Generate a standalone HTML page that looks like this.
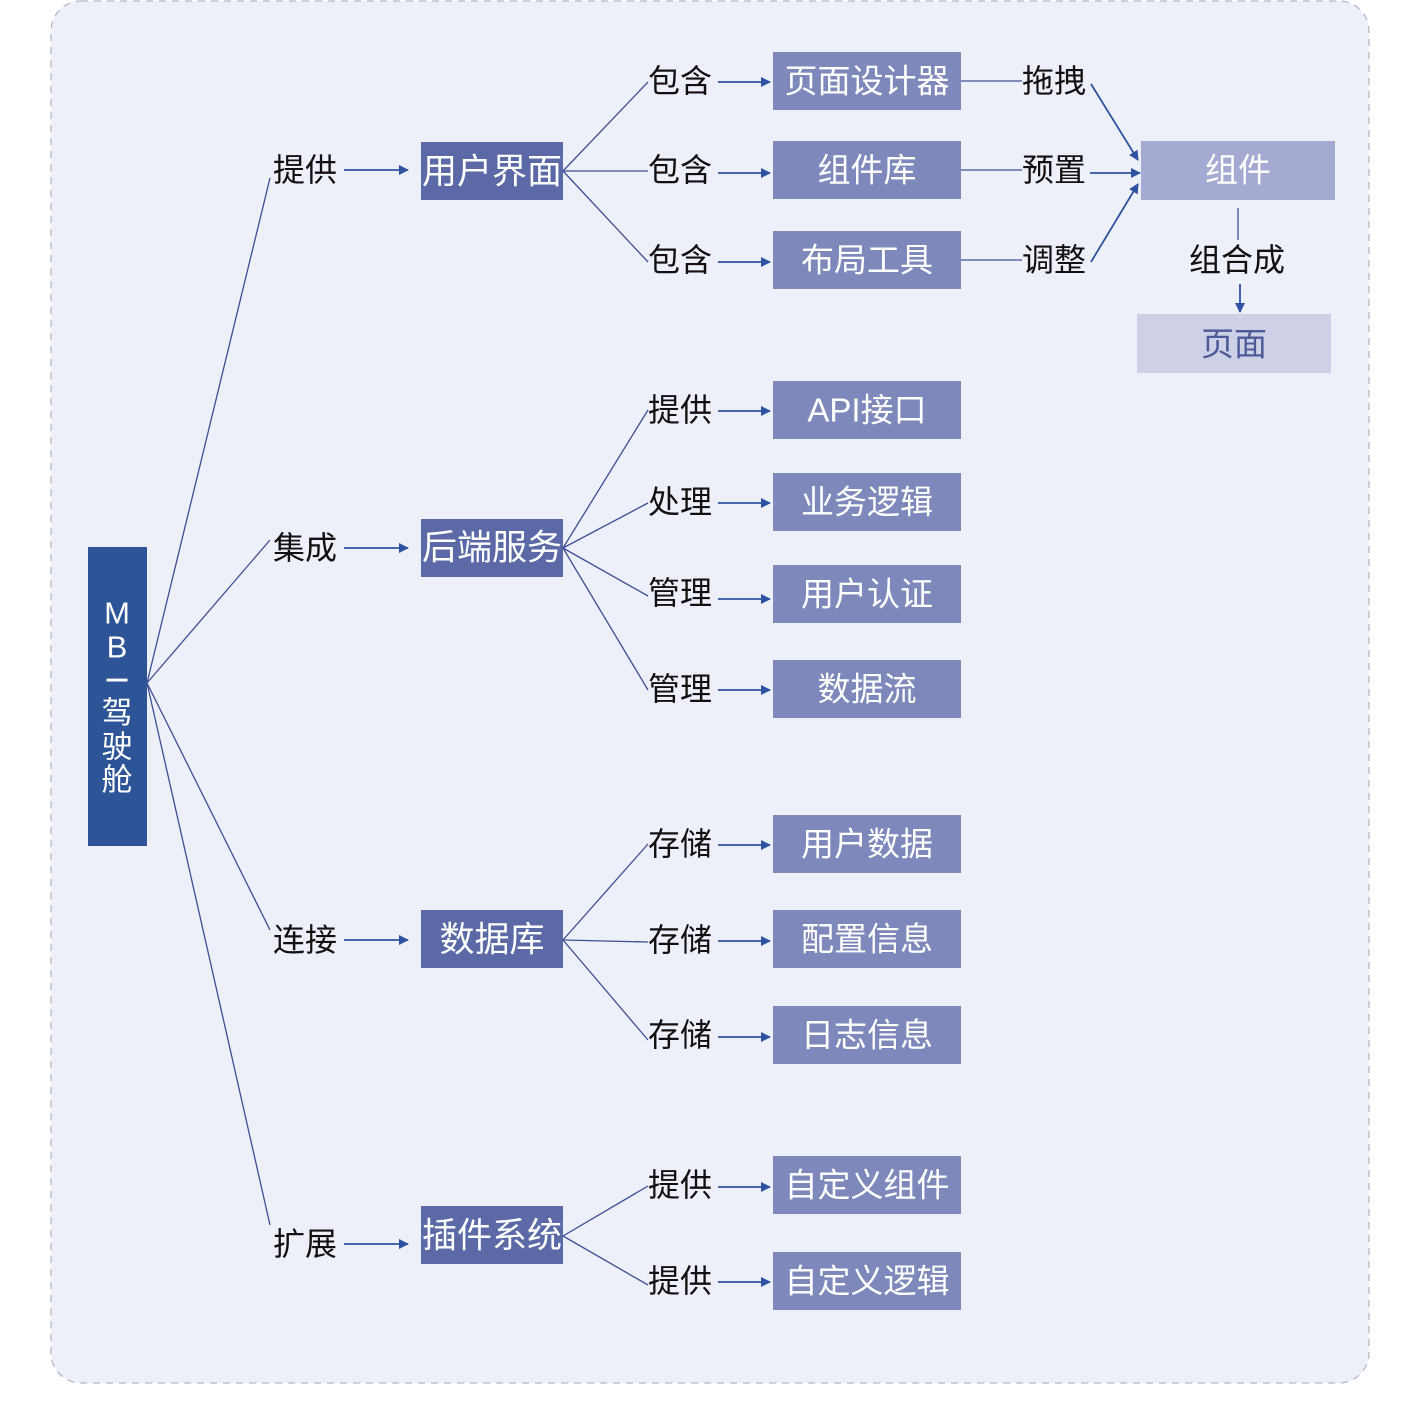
<!DOCTYPE html>
<html><head><meta charset="utf-8"><style>
html,body{margin:0;padding:0;background:#fff;}
svg{display:block;font-family:"Liberation Sans","Noto Sans CJK SC",sans-serif;}
.l{font-size:32px;fill:#111;dominant-baseline:central;}
.b{font-size:33px;fill:#fff;dominant-baseline:central;text-anchor:middle;}
.m{font-size:35px;}
.ln{stroke:#3d4f94;stroke-width:1.3;fill:none;}
.ar{stroke:#2f52a0;stroke-width:1.8;fill:none;marker-end:url(#a);}
</style></head><body>
<svg width="1419" height="1409" viewBox="0 0 1419 1409">
<defs><marker id="a" markerWidth="10" markerHeight="10" refX="9" refY="5" orient="auto" markerUnits="userSpaceOnUse"><path d="M0,0 L10,5 L0,10 z" fill="#2f52a0"/></marker></defs>
<rect x="51" y="1" width="1318" height="1382" rx="30" fill="#eef0f9" stroke="#b4b8c4" stroke-width="1.3" stroke-dasharray="7,6"/>
<rect x="88" y="547" width="59" height="299" fill="#2d5497"/>
<g class="b" style="font-size:31px">
<text x="117" y="613">M</text><text x="117" y="647">B</text>
<text x="117" y="680" transform="rotate(90 117 680)">I</text>
<text x="117" y="713">驾</text><text x="117" y="747">驶</text><text x="117" y="780">舱</text></g>
<g class="ln">
<path d="M147,683 L270,178"/><path d="M147,683 L270,540"/><path d="M147,683 L270,930"/><path d="M147,683 L270,1225"/>
</g>
<g class="l"><text x="273" y="170">提供</text><text x="273" y="548">集成</text><text x="273" y="940">连接</text><text x="273" y="1244">扩展</text></g>
<g class="ar"><path d="M344,170 H408"/><path d="M344,548 H408"/><path d="M344,940 H408"/><path d="M344,1244 H408"/></g>
<g fill="#5b6aa6"><rect x="421" y="142" width="142" height="58"/><rect x="421" y="519" width="142" height="58"/><rect x="421" y="910" width="142" height="58"/><rect x="421" y="1206" width="142" height="58"/></g>
<g class="b m"><text x="492" y="172">用户界面</text><text x="492" y="548">后端服务</text><text x="492" y="940">数据库</text><text x="492" y="1236">插件系统</text></g>
<g class="ln">
<path d="M563,171 L648,82"/><path d="M563,171 L648,171"/><path d="M563,171 L648,262"/>
<path d="M563,548 L648,410"/><path d="M563,548 L648,503"/><path d="M563,548 L648,596"/><path d="M563,548 L648,690"/>
<path d="M563,940 L648,844"/><path d="M563,940 L648,942"/><path d="M563,940 L648,1040"/>
<path d="M563,1236 L648,1186"/><path d="M563,1236 L648,1285"/>
</g>
<g class="l">
<text x="648" y="81">包含</text><text x="648" y="170">包含</text><text x="648" y="260">包含</text>
<text x="648" y="410">提供</text><text x="648" y="502">处理</text><text x="648" y="593">管理</text><text x="648" y="689">管理</text>
<text x="648" y="844">存储</text><text x="648" y="940">存储</text><text x="648" y="1035">存储</text>
<text x="648" y="1185">提供</text><text x="648" y="1281">提供</text>
</g>
<g class="ar">
<path d="M718,82 H770"/><path d="M718,173 H770"/><path d="M718,262 H770"/>
<path d="M718,411 H770"/><path d="M718,503 H770"/><path d="M718,599 H770"/><path d="M718,690 H770"/>
<path d="M718,845 H770"/><path d="M718,941 H770"/><path d="M718,1037 H770"/>
<path d="M718,1187 H770"/><path d="M718,1282 H770"/>
</g>
<g fill="#7f88bb">
<rect x="773" y="52" width="188" height="58"/><rect x="773" y="141" width="188" height="58"/><rect x="773" y="231" width="188" height="58"/>
<rect x="773" y="381" width="188" height="58"/><rect x="773" y="473" width="188" height="58"/><rect x="773" y="565" width="188" height="58"/><rect x="773" y="660" width="188" height="58"/>
<rect x="773" y="815" width="188" height="58"/><rect x="773" y="910" width="188" height="58"/><rect x="773" y="1006" width="188" height="58"/>
<rect x="773" y="1156" width="188" height="58"/><rect x="773" y="1252" width="188" height="58"/>
</g>
<g class="b">
<text x="867" y="81">页面设计器</text><text x="867" y="170">组件库</text><text x="867" y="260">布局工具</text>
<text x="867" y="410">API接口</text><text x="867" y="502">业务逻辑</text><text x="867" y="594">用户认证</text><text x="867" y="689">数据流</text>
<text x="867" y="844">用户数据</text><text x="867" y="939">配置信息</text><text x="867" y="1035">日志信息</text>
<text x="867" y="1185">自定义组件</text><text x="867" y="1281">自定义逻辑</text>
</g>
<g class="ln"><path d="M961,81 H1022"/><path d="M961,170 H1022"/><path d="M961,260 H1022"/><path d="M1238,208 V240"/></g>
<g class="l"><text x="1022" y="81">拖拽</text><text x="1022" y="170">预置</text><text x="1022" y="260">调整</text><text x="1189" y="260">组合成</text></g>
<g class="ar"><path d="M1091,84 L1138,160"/><path d="M1090,173 H1140"/><path d="M1091,262 L1138,184"/><path d="M1240,284 V312"/></g>
<rect x="1141" y="141" width="194" height="59" fill="#a5aad2"/>
<text class="b" x="1238" y="170">组件</text>
<rect x="1137" y="314" width="194" height="59" fill="#cdd0e6"/>
<text class="b" x="1234" y="344" style="fill:#4d5a98">页面</text>
</svg>
</body></html>
